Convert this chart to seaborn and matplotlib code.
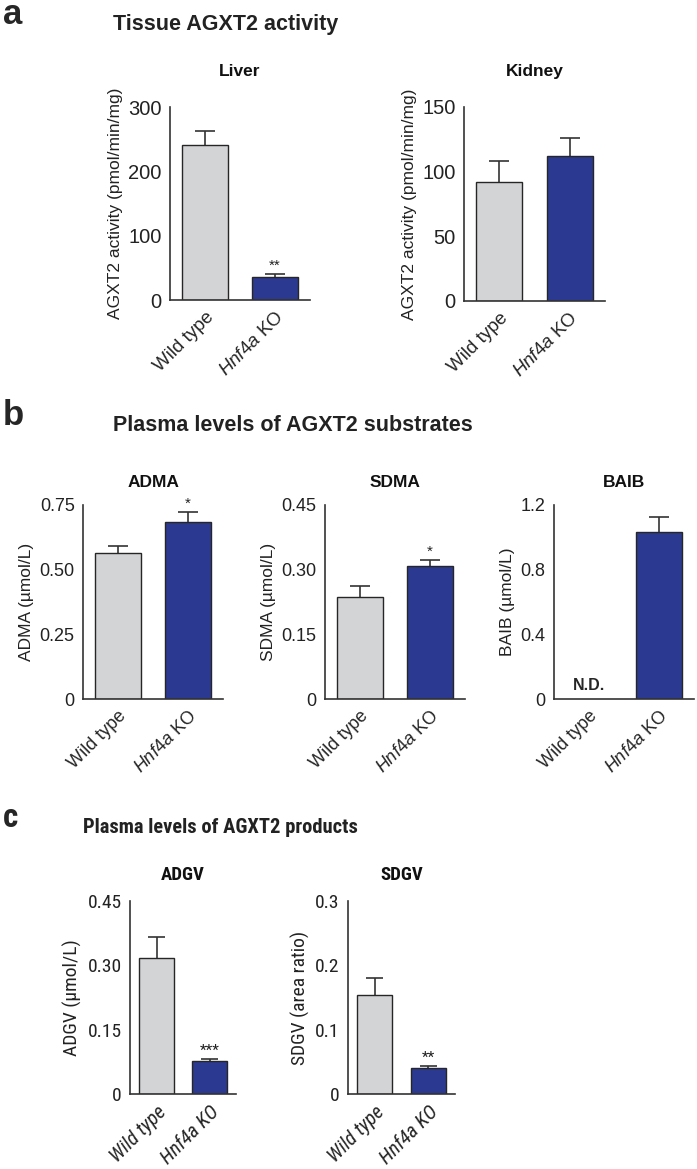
import matplotlib
matplotlib.use('Agg')

import numpy as np
import pandas as pd
import seaborn as sns
import matplotlib.pyplot as plt
from matplotlib import font_manager

# ---- data ----
groups = ["Wild type", "Hnf4a KO"]

liver_mean = [241, 36]
liver_sem = [21, 4]
kidney_mean = [92, 112]
kidney_sem = [16, 14]

adma_mean = [0.566, 0.686]
adma_sem = [0.027, 0.036]
sdma_mean = [0.237, 0.309]
sdma_sem = [0.024, 0.014]
baib_mean = [np.nan, 1.03]
baib_sem = [np.nan, 0.094]

adgv_mean = [0.316, 0.076]
adgv_sem = [0.050, 0.005]
sdgv_mean = [0.154, 0.040]
sdgv_sem = [0.027, 0.003]

liver_ticks = [0, 100, 200, 300]
kidney_ticks = [0, 50, 100, 150]
adma_ticks = [0, 0.25, 0.50, 0.75]
adma_ticklabels = ["0", "0.25", "0.50", "0.75"]
sdma_ticks = [0, 0.15, 0.30, 0.45]
sdma_ticklabels = ["0", "0.15", "0.30", "0.45"]
baib_ticks = [0, 0.4, 0.8, 1.2]
baib_ticklabels = ["0", "0.4", "0.8", "1.2"]
adgv_ticks = [0, 0.15, 0.30, 0.45]
adgv_ticklabels = ["0", "0.15", "0.30", "0.45"]
sdgv_ticks = [0, 0.1, 0.2, 0.3]
sdgv_ticklabels = ["0", "0.1", "0.2", "0.3"]

GRAY = "#d3d4d6"
BLUE = "#2c3990"
INK = "#333333"

sns.set_style("white")
plt.rcParams["font.family"] = ["Liberation Sans", "DejaVu Sans"]
plt.rcParams["mathtext.fontset"] = "custom"
plt.rcParams["mathtext.rm"] = "Liberation Sans"
plt.rcParams["mathtext.it"] = "Liberation Sans:italic"


# look for a condensed sans for panel c (the original uses Arial Narrow)
def find_condensed():
    files = [f for f in font_manager.fontManager.ttflist]
    for key in ["LiberationSansNarrow", "RobotoCondensed", "DejaVuSansCondensed",
                "OpenSansCondensed", "NotoSansCondensed", "Condensed", "Narrow"]:
        reg = [f for f in files if key.lower() in f.fname.replace("-", "").replace("_", "").lower()]
        if reg:
            def pick(style, weight):
                cand = [f for f in reg if f.style == style and
                        ((f.weight in ("bold", 700)) == (weight == "bold"))]
                return cand[0].fname if cand else reg[0].fname
            return {"regular": pick("normal", "normal"), "italic": pick("italic", "normal"),
                    "bold": pick("normal", "bold")}
    return None


COND = find_condensed()


def fp(size=12, italic=False, bold=False, narrow=False):
    if narrow and COND:
        key = "bold" if bold else ("italic" if italic else "regular")
        return font_manager.FontProperties(fname=COND[key], size=size)
    return font_manager.FontProperties(family="Liberation Sans", size=size,
                                       style="italic" if italic else "normal",
                                       weight="bold" if bold else "normal")


W, H = 697, 1169
fig = plt.figure(figsize=(W / 100, H / 100), dpi=100)


def rect(l, t, r, b):
    return [l / W, 1 - b / H, (r - l) / W, (b - t) / H]


def panel(box, mean, sem, ticks, ticklabels, ylabel, title, stars, narrow=False,
          title_pad=15, nd=False, tick_fs=13, label_fs=12.5, xlab_fs=13, title_fs=12.5,
          cap=0.14):
    k = 0.86 if (narrow and not COND) else 1.0
    ax = fig.add_axes(rect(*box))
    df = pd.DataFrame({"group": groups, "value": mean})
    sns.barplot(data=df, x="group", y="value", hue="group", order=groups,
                hue_order=groups, palette=[GRAY, BLUE], legend=False, saturation=1,
                edgecolor="#262626", linewidth=1.0, width=0.65, ax=ax, zorder=2)
    x = np.arange(len(groups))
    top = np.array(mean) + np.array(sem)
    ax.vlines(x, mean, top, color=INK, lw=1.2, zorder=1)
    ax.hlines(top, x - cap, x + cap, color=INK, lw=1.2, zorder=1)
    ax.set_xlim(-0.5, 1.5)
    ax.set_ylim(0, ticks[-1])
    ax.set_yticks(ticks)
    ax.set_yticklabels(ticklabels if ticklabels else [str(t) for t in ticks],
                       fontproperties=fp(size=tick_fs * k, narrow=narrow), color="#222222")
    ax.set_xticks(x)
    if narrow:
        ax.set_xticklabels(groups, rotation=45, ha="right", rotation_mode="anchor",
                           fontproperties=fp(size=xlab_fs * k, italic=True, narrow=True))
    else:
        ax.set_xticklabels(["Wild type", r"$\mathit{Hnf4a}$ KO"], rotation=45,
                           ha="right", rotation_mode="anchor", fontsize=xlab_fs)
    ax.set_xlabel("")
    ax.set_ylabel(ylabel, fontproperties=fp(size=label_fs * k, narrow=narrow),
                  color="#222222", labelpad=4)
    ax.set_title(title, fontproperties=fp(size=title_fs * k, bold=True, narrow=narrow),
                 pad=title_pad, color="#111111")
    sns.despine(ax=ax)
    for s in ["left", "bottom"]:
        ax.spines[s].set_color(INK)
        ax.spines[s].set_linewidth(1.2)
    ax.tick_params(axis="both", direction="out", length=4, width=1.2, color=INK, pad=2)
    for i, st in enumerate(stars):
        if st:
            ax.annotate(st, (i, top[i]), xytext=(0, 1), textcoords="offset points",
                        ha="center", va="bottom", color="#222222",
                        fontproperties=fp(size=11, narrow=narrow))
    if nd:
        ax.annotate("N.D.", (0, 0), xytext=(0, 4), textcoords="offset points",
                    ha="center", va="bottom", fontproperties=fp(size=11.5, bold=True))
    return ax


# panel a
panel((170, 107, 310, 300), liver_mean, liver_sem, liver_ticks, None,
      "AGXT2 activity (pmol/min/mg)", "Liver", ["", "**"], title_pad=22, tick_fs=14.5,
      xlab_fs=13.5)
panel((464, 107, 605, 301), kidney_mean, kidney_sem, kidney_ticks, None,
      "AGXT2 activity (pmol/min/mg)", "Kidney", ["", ""], title_pad=22, tick_fs=14.5,
      xlab_fs=13.5)

# panel b
panel((83, 505, 223, 699), adma_mean, adma_sem, adma_ticks, adma_ticklabels,
      "ADMA (µmol/L)", "ADMA", ["", "*"], title_pad=13)
panel((325, 505, 465, 699), sdma_mean, sdma_sem, sdma_ticks, sdma_ticklabels,
      "SDMA (µmol/L)", "SDMA", ["", "*"], title_pad=13)
panel((554, 505, 694, 699), baib_mean, baib_sem, baib_ticks, baib_ticklabels,
      "BAIB (µmol/L)", "BAIB", ["", ""], title_pad=13, nd=True)

# panel c
panel((130, 901, 236, 1094), adgv_mean, adgv_sem, adgv_ticks, adgv_ticklabels,
      "ADGV (µmol/L)", "ADGV", ["", "***"], narrow=True, title_pad=15, tick_fs=14,
      label_fs=14, xlab_fs=14.5, title_fs=13.5, cap=0.16)
panel((348, 901, 455, 1094), sdgv_mean, sdgv_sem, sdgv_ticks, sdgv_ticklabels,
      "SDGV (area ratio)", "SDGV", ["", "**"], narrow=True, title_pad=15, tick_fs=14,
      label_fs=14, xlab_fs=14.5, title_fs=13.5, cap=0.16)

# panel letters and headings
fig.text(3 / W, 1 - 24 / H, "a", fontsize=25, fontweight="bold", va="baseline")
fig.text(3 / W, 1 - 425 / H, "b", fontsize=25, fontweight="bold", va="baseline")
fig.text(3 / W, 1 - 827 / H, "c", va="baseline", fontproperties=fp(size=24, bold=True, narrow=True))
fig.text(113 / W, 1 - 30 / H, "Tissue AGXT2 activity", fontsize=15.5, fontweight="bold",
         va="baseline", color="#222222")
fig.text(113 / W, 1 - 431 / H, "Plasma levels of AGXT2 substrates", fontsize=15.5,
         fontweight="bold", va="baseline", color="#222222")
fig.text(83 / W, 1 - 833 / H, "Plasma levels of AGXT2 products", va="baseline",
         color="#222222", fontproperties=fp(size=14.8 if COND else 14, bold=True, narrow=True))

fig.savefig("out.png", dpi=100, facecolor="white")
